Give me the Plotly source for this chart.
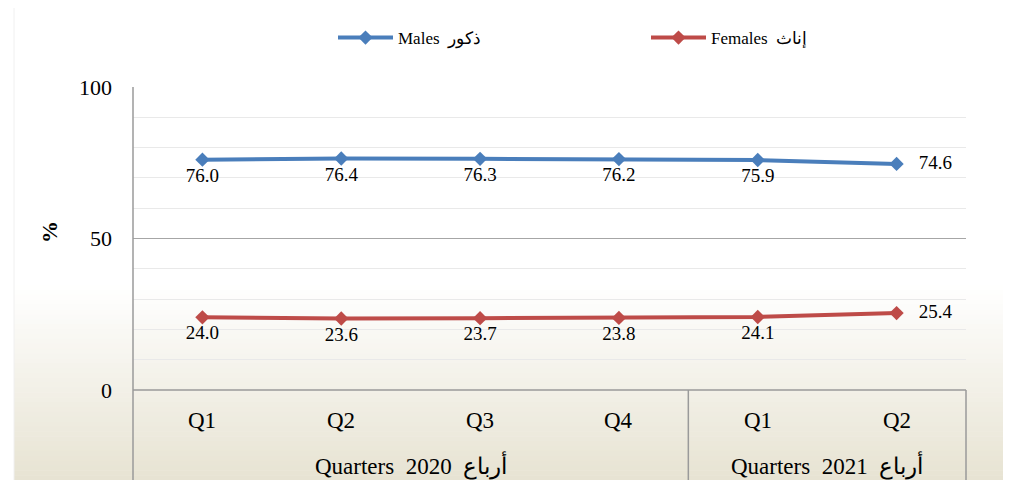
import plotly.graph_objects as go

categories = ["2020 Q1", "2020 Q2", "2020 Q3", "2020 Q4", "2021 Q1", "2021 Q2"]
quarter_labels = ["Q1", "Q2", "Q3", "Q4", "Q1", "Q2"]
year_groups = ["Quarters  2020  أرباع", "Quarters  2021  أرباع"]
year_group_centers = [1.5, 4.5]
males = [76.0, 76.4, 76.3, 76.2, 75.9, 74.6]
females = [24.0, 23.6, 23.7, 23.8, 24.1, 25.4]
y_ticks = [0, 50, 100]

OFF = 8  # page body margin
W, H = 1011 - OFF, 480 - OFF
L = 133 - OFF
T = 87 - OFF
R = W - (966 - OFF)
B = H - (390 - OFF)
plot_h = H - T - B
plot_w = W - L - R

def py(pix):
    return (H - B - (pix - OFF)) / plot_h

def px(pix):
    return ((pix - OFF) - L) / plot_w

serif = "Liberation Serif, Times New Roman, serif"
blue = "#4A7EBB"
red = "#BE4B48"

text_pos = ["bottom center"] * 5 + ["middle right"]

def labels(vals):
    out = []
    for i, v in enumerate(vals):
        s = f"{v:.1f}"
        if text_pos[i] == "middle right":
            s = "   " + s
        out.append(s)
    return out

fig = go.Figure()
fig.add_trace(go.Scatter(
    x=categories, y=males, name="Males  ذكور", mode="lines+markers+text",
    line=dict(color=blue, width=4), marker=dict(symbol="diamond", size=11, color=blue),
    text=labels(males), textposition=text_pos,
    textfont=dict(family=serif, size=19, color="#000"), legend="legend",
))
fig.add_trace(go.Scatter(
    x=categories, y=females, name="Females  إناث", mode="lines+markers+text",
    line=dict(color=red, width=4), marker=dict(symbol="diamond", size=11, color=red),
    text=labels(females), textposition=text_pos,
    textfont=dict(family=serif, size=19, color="#000"), legend="legend2",
))

shapes = []
n = 40
top_pix, bot_pix = 285, 480
c0 = (255, 255, 255)
c1 = (231, 227, 210)
for i in range(n):
    y0p = top_pix + (bot_pix - top_pix) * i / n
    y1p = top_pix + (bot_pix - top_pix) * (i + 1) / n
    t = (i + 0.5) / n
    c = tuple(round(c0[k] + (c1[k] - c0[k]) * t) for k in range(3))
    shapes.append(dict(type="rect", xref="paper", yref="paper", layer="below",
                       x0=px(14), x1=px(1012), y0=py(y1p + 0.5), y1=py(y0p),
                       fillcolor=f"rgb{c}", line=dict(width=0)))
shapes.append(dict(type="rect", xref="paper", yref="paper", layer="below",
                   x0=px(14), x1=px(1013), y0=py(482), y1=py(7),
                   fillcolor="rgba(0,0,0,0)", line=dict(color="#F0F0F0", width=1)))
gray = "#9A9A9A"
shapes.append(dict(type="line", xref="paper", yref="paper", x0=0, x1=0, y0=py(481), y1=1,
                   line=dict(color=gray, width=1.5)))
shapes.append(dict(type="line", xref="paper", yref="paper", x0=1, x1=1, y0=py(481), y1=0,
                   line=dict(color=gray, width=1.5)))
shapes.append(dict(type="line", xref="x", yref="paper", x0=3.5, x1=3.5, y0=py(481), y1=0,
                   line=dict(color=gray, width=1.5)))
shapes.append(dict(type="line", xref="paper", yref="paper", x0=0, x1=1, y0=0, y1=0,
                   line=dict(color=gray, width=1.5)))

annotations = []
for c, q in zip(categories, quarter_labels):
    annotations.append(dict(x=c, y=py(420), xref="x", yref="paper", text=q, showarrow=False,
                            font=dict(family=serif, size=23, color="#000"),
                            xanchor="center", yanchor="middle"))
for g, cx in zip(year_groups, year_group_centers):
    annotations.append(dict(x=cx, y=py(465), xref="x", yref="paper", text=g, showarrow=False,
                            font=dict(family=serif, size=23, color="#000"),
                            xanchor="center", yanchor="middle"))
annotations.append(dict(x=px(49), y=py(232), xref="paper", yref="paper", text="<b>%</b>",
                        showarrow=False, textangle=-90, xanchor="center", yanchor="middle",
                        font=dict(family=serif, size=22, color="#000")))

leg_common = dict(orientation="h", yanchor="middle", xanchor="left",
                  font=dict(family=serif, size=17, color="#000"),
                  bgcolor="rgba(0,0,0,0)", itemwidth=55)

fig.update_layout(
    width=W, height=H,
    margin=dict(l=L, r=R, t=T, b=B),
    paper_bgcolor="white", plot_bgcolor="rgba(0,0,0,0)",
    showlegend=True,
    legend=dict(x=px(333), y=py(38), **leg_common),
    legend2=dict(x=px(646), y=py(38), **leg_common),
    shapes=shapes, annotations=annotations,
    xaxis=dict(type="category", range=[-0.5, 5.5], showticklabels=False, showgrid=False,
               zeroline=False, showline=False, ticks=""),
    yaxis=dict(range=[0, 100], tickvals=y_ticks, showgrid=True, gridcolor="#A6A6A6", gridwidth=1,
               minor=dict(dtick=10, showgrid=True, gridcolor="#E9E9E9", gridwidth=1),
               zeroline=False, showline=False, ticks="", ticklabelstandoff=20,
               tickfont=dict(family=serif, size=22, color="#000")),
)

fig.write_html("out.html")
